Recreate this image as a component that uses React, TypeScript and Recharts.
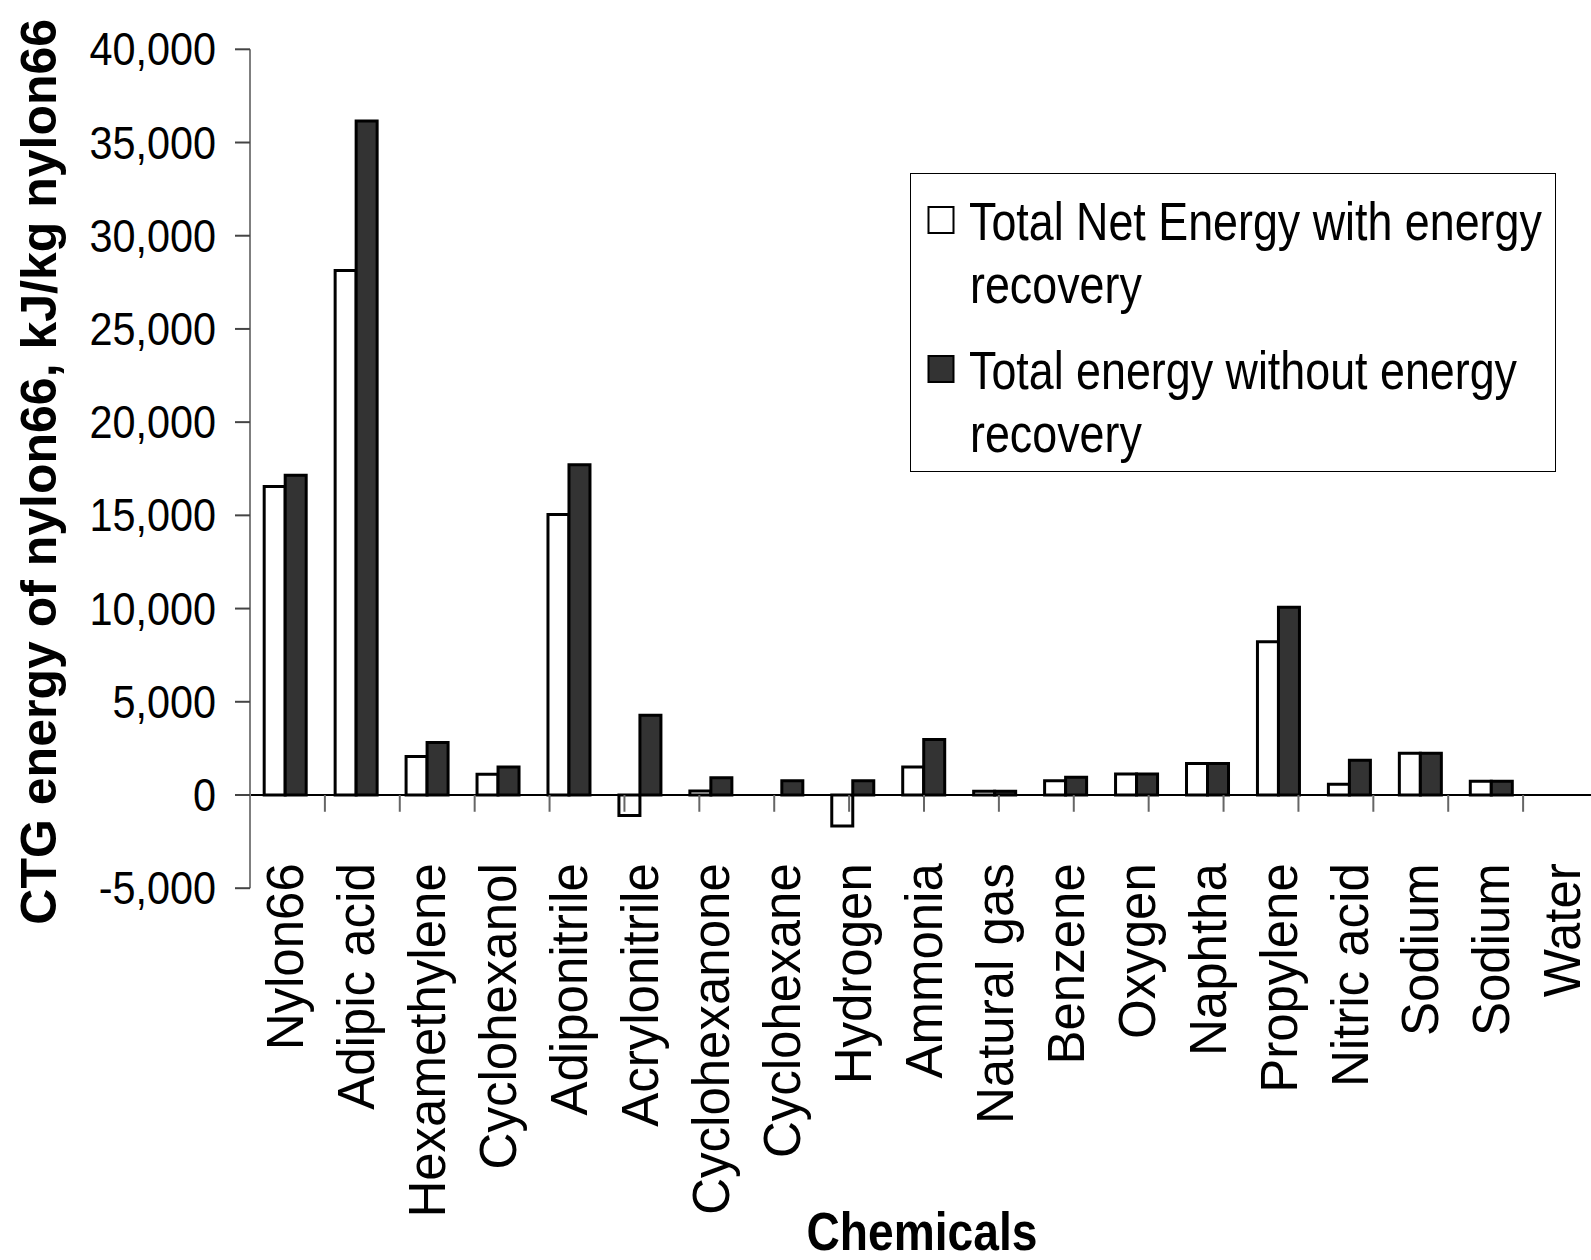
import React from 'react';
import { BarChart, Bar, XAxis, YAxis, ReferenceLine, Legend, Label } from 'recharts';

const categories = [
  'Nylon66', 'Adipic acid', 'Hexamethylene', 'Cyclohexanol', 'Adiponitrile', 'Acrylonitrile',
  'Cyclohexanone', 'Cyclohexane', 'Hydrogen', 'Ammonia', 'Natural gas', 'Benzene', 'Oxygen',
  'Naphtha', 'Propylene', 'Nitric acid', 'Sodium', 'Sodium', 'Water',
];
const netWithRecovery = [16550, 28130, 2070, 1110, 15050, -1100, 220, 0, -1670, 1500, 200, 760, 1120, 1690, 8220, 580, 2240, 740, 0];
const totalWithoutRecovery = [17150, 36150, 2820, 1500, 17720, 4280, 930, 760, 760, 2980, 200, 950, 1120, 1690, 10070, 1870, 2240, 740, 0];
const seriesNames = ['Total Net Energy with energy recovery', 'Total energy without energy recovery'];
const yTicks = [-5000, 0, 5000, 10000, 15000, 20000, 25000, 30000, 35000, 40000];
const boundaries = [0, 1, 2, 3, 4, 5, 6, 7, 8, 9, 10, 11, 12, 13, 14, 15, 16, 17, 18, 19];
const yTitle = 'CTG energy of nylon66, kJ/kg nylon66';
const xTitle = 'Chemicals';

const data = categories.map((c, i) => ({ idx: i, name: c, net: netWithRecovery[i], total: totalWithoutRecovery[i] }));

const FONT = '"Liberation Sans", Arial, sans-serif';
const fmt = (v: number) => v.toLocaleString('en-US');

const YTick = (props: any) => {
  const { x, y, payload } = props;
  return (
    <text transform={`translate(${x},${y}) scale(0.9,1)`} textAnchor="end" dy="0.35em" fontSize={46} fontFamily={FONT} fill="#000">
      {fmt(payload.value)}
    </text>
  );
};

const XTick = (props: any) => {
  const { x, y, payload } = props;
  return (
    <text transform={`translate(${x},${y - 25}) rotate(-90)`} textAnchor="end" dy="0.35em" fontSize={51} fontFamily={FONT} fill="#000">
      {categories[payload.value]}
    </text>
  );
};

const LegendBox = (props: any) => {
  const payload = props.payload || [];
  const rows = [0, 149];
  return (
    <svg width={646} height={299} style={{ display: 'block' }}>
      <rect x={0.5} y={0.5} width={645} height={298} fill="#fff" stroke="#000" strokeWidth={1} />
      {payload.map((p: any, i: number) => {
        const name: string = p.value;
        const words = name.split(' ');
        const l1 = words.slice(0, -1).join(' ');
        const l2 = words[words.length - 1];
        const oy = rows[i];
        return (
          <g key={i}>
            <rect x={18.5} y={34 + oy} width={25} height={26} fill={i === 0 ? '#fff' : '#333333'} stroke="#000" strokeWidth={2} />
            <text transform={`translate(59,${67 + oy}) scale(0.83,1)`} fontSize={54} fontFamily={FONT} fill="#000">{l1}</text>
            <text transform={`translate(60,${130 + oy}) scale(0.83,1)`} fontSize={54} fontFamily={FONT} fill="#000">{l2}</text>
          </g>
        );
      })}
    </svg>
  );
};

export default function App() {
  return (
    <div>
      <style>{'html,body{margin:0;padding:0;overflow:hidden;background:#fff}'}</style>
      <BarChart
        width={1600}
        height={1260}
        data={data}
        margin={{ top: 49.3, right: 2, bottom: 0, left: 0 }}
        barCategoryGap="20%"
        barGap={0}
      >
        <XAxis
          dataKey="idx"
          type="category"
          interval={0}
          axisLine={false}
          tickLine={false}
          tickSize={0}
          tickMargin={0}
          height={371.8}
          tick={<XTick />}
        >
          <Label
            content={(p: any) => {
              const vb = p.viewBox;
              return (
                <text x={vb.x + vb.width / 2 - 2} y={1250} textAnchor="middle" fontSize={53} fontWeight="bold" fontFamily={FONT} fill="#000" textLength={231} lengthAdjust="spacingAndGlyphs">
                  {xTitle}
                </text>
              );
            }}
          />
        </XAxis>
        <XAxis xAxisId="num" type="number" domain={[0, 19]} allowDataOverflow hide />
        <YAxis
          width={250}
          domain={[-5000, 40000]}
          ticks={yTicks}
          interval={0}
          tickSize={15}
          tickMargin={19}
          axisLine={{ stroke: '#7f7f7f', strokeWidth: 2 }}
          tickLine={{ stroke: '#444', strokeWidth: 2 }}
          tick={<YTick />}
        >
          <Label
            content={(p: any) => {
              const vb = p.viewBox;
              return (
                <text transform={`translate(38.5,${vb.y + vb.height / 2 + 3}) rotate(-90)`} textAnchor="middle" dy="0.35em" fontSize={50} fontWeight="bold" fontFamily={FONT} fill="#000">
                  {yTitle}
                </text>
              );
            }}
          />
        </YAxis>
        <Legend
          layout="horizontal"
          verticalAlign="middle"
          align="center"
          content={<LegendBox />}
          wrapperStyle={{ position: 'absolute', left: 910, top: 172.5, width: 646, height: 299 }}
        />
        <Bar dataKey="net" name={seriesNames[0]} fill="#fff" stroke="#000" strokeWidth={3} isAnimationActive={false} />
        <Bar dataKey="total" name={seriesNames[1]} fill="#333333" stroke="#000" strokeWidth={3} isAnimationActive={false} />
        <ReferenceLine y={0} stroke="#000" strokeWidth={2} />
        {boundaries.map((b) => (
          <ReferenceLine
            key={b}
            xAxisId="num"
            segment={[{ x: b, y: 0 }, { x: b, y: -900 }]}
            stroke="#666"
            strokeWidth={2}
          />
        ))}
      </BarChart>
    </div>
  );
}
